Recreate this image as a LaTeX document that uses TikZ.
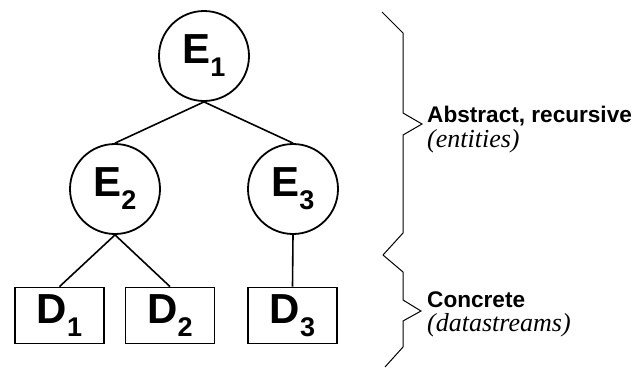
\documentclass[tikz,border=0pt]{standalone}
\usepackage{fontspec}
\setmainfont{Liberation Sans}
\newfontfamily\timesit{Liberation Serif}
\newcommand{\sublbl}[2]{#1\raisebox{-13pt}{\fontsize{27}{27}\selectfont #2}}

\begin{document}
\begin{tikzpicture}[x=1pt, y=-1pt,
                ent/.style={draw, circle, line width=1.8pt, minimum size=90pt, inner sep=0pt,
                        font=\fontsize{42}{42}\selectfont\bfseries},
                dat/.style={draw, rectangle, line width=1.8pt, minimum width=89pt, minimum height=56pt,
                        inner sep=0pt, font=\fontsize{42}{42}\selectfont\bfseries},
                link/.style={line width=1.6pt},
                head/.style={anchor=base west, inner sep=0pt, font=\fontsize{22.6}{22.6}\selectfont\bfseries},
                note/.style={anchor=base west, inner sep=0pt, font=\fontsize{26}{26}\selectfont\timesit\itshape}]
                \useasboundingbox (0,0) rectangle (641,368);
                \node[ent] (e1) at (204,56) {\sublbl{E}{1}};
                \node[ent] (e2) at (115,189) {\sublbl{E}{2}};
                \node[ent] (e3) at (293,189) {\sublbl{E}{3}};
                \node[dat] (d1) at (59.5,315.5) {\sublbl{D}{1}};
                \node[dat] (d2) at (170,315.5) {\sublbl{D}{2}};
                \node[dat] (d3) at (292.5,315.5) {\sublbl{D}{3}};
                \draw[link] (e1.south) -- (e2.north);
                \draw[link] (e1.south) -- (e3.north);
                \draw[link] (e2.south) -- (d1.north);
                \draw[link] (e2.south) -- (d2.north);
                \draw[link] (e3.south) -- (d3.north);
                % braces
                \draw[line width=1pt, line join=miter] (382,12) -- (403,33) -- (403,113) -- (422,124)
                        -- (403,135) -- (403,233) -- (383,255) -- (403,272) -- (403,300) -- (421,311)
                        -- (403,321) -- (403,347) -- (385,367);
                \node[head] (abs) at (427,122) {Abstract, recursive};
                \node[note] (ents) at (427,147) {(entities)};
                \node[head] (conc) at (427,307) {Concrete};
                \node[note] (dstr) at (427,331) {(datastreams)};
\end{tikzpicture}
\end{document}
